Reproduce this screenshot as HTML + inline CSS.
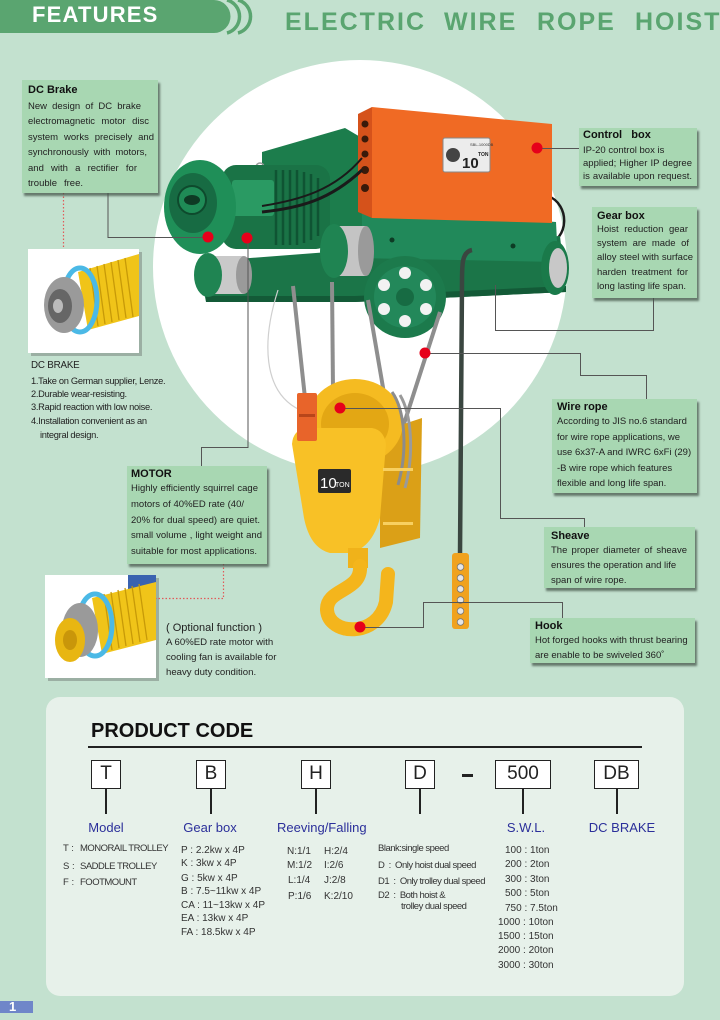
<!DOCTYPE html>
<html>
<head>
<meta charset="utf-8">
<style>
*{margin:0;padding:0;box-sizing:border-box}
html,body{width:720px;height:1020px;overflow:hidden}
body{background:#c3e1cf;position:relative;font-family:"Liberation Sans",sans-serif;color:#1e1e1e}
.abs{position:absolute;white-space:nowrap}
.co{position:absolute;background:#a8d7b2;box-shadow:2px 3px 2px rgba(70,85,75,.75)}
.co .t{font-weight:bold;font-size:11px;line-height:14px;color:#111}
.co .l{font-size:9.5px;color:#222;white-space:nowrap}
.j{text-align:justify;text-align-last:justify;white-space:normal!important}
.blue{color:#2b2f9a;font-size:13px}
.pc{font-size:10px;color:#333}
.bx{position:absolute;top:760px;height:29px;border:1.5px solid #222;background:#fff;text-align:center;font-size:19px;line-height:26px;color:#222}
.st{position:absolute;top:789px;width:2px;height:25px;background:#222}
</style>
</head>
<body>

<!-- header -->
<svg class="abs" style="left:0;top:0" width="720" height="40">
  <path d="M0,0 H214 A16.5,16.5 0 0 1 214,33 H0 Z" fill="#5aa570"/>
  <path d="M227,0 A16.5,17 0 0 1 227,33" stroke="#5aa570" stroke-width="3.5" fill="none"/>
  <path d="M238,0 A16.5,17 0 0 1 238,33" stroke="#5aa570" stroke-width="3.5" fill="none"/>
</svg>
<div class="abs" style="left:32px;top:3px;font-size:22px;line-height:24px;font-weight:bold;color:#fff;letter-spacing:1.2px">FEATURES</div>
<div class="abs" style="left:285px;top:8px;font-size:25px;line-height:28px;font-weight:bold;color:#5aa570;letter-spacing:2px">ELECTRIC</div>
<div class="abs" style="left:444px;top:8px;font-size:25px;line-height:28px;font-weight:bold;color:#5aa570;letter-spacing:2px">WIRE</div>
<div class="abs" style="left:537px;top:8px;font-size:25px;line-height:28px;font-weight:bold;color:#5aa570;letter-spacing:2px">ROPE</div>
<div class="abs" style="left:635px;top:8px;font-size:25px;line-height:28px;font-weight:bold;color:#5aa570;letter-spacing:2px">HOIST</div>

<!-- main graphics -->
<svg class="abs" style="left:0;top:0" width="720" height="1020">
  <circle cx="360" cy="267" r="207" fill="#fff"/>

  <!-- back cable right -->
  <path d="M548,196 C570,204 570,240 545,245 L472,250" stroke="#1c1c1c" stroke-width="2.5" fill="none"/>
  <!-- girder -->
  <polygon points="198,262 355,250 560,236 566,292 355,302 206,302" fill="#1b7548"/>
  <polygon points="206,296 355,296 566,286 566,292 355,302 206,302" fill="#135a37"/>
  <!-- frame under box -->
  <polygon points="355,208 556,222 558,262 355,258" fill="#21895a"/>
  <circle cx="392" cy="240" r="2.5" fill="#0d3b24"/><circle cx="513" cy="246" r="2.5" fill="#0d3b24"/>
  <!-- gearbox hump -->
  <polygon points="262,152 345,128 362,138 362,245 262,245" fill="#1c7d4c"/>
  <circle cx="260" cy="167" r="4" stroke="#999" stroke-width="1.5" fill="none"/>
  <!-- motor body with fins -->
  <rect x="222" y="165" width="108" height="84" rx="14" fill="#1a7346"/>
  <g stroke="#0f5433" stroke-width="2.5">
    <line x1="276" y1="170" x2="276" y2="245"/><line x1="283" y1="170" x2="283" y2="245"/>
    <line x1="290" y1="170" x2="290" y2="245"/><line x1="297" y1="170" x2="297" y2="245"/>
    <line x1="304" y1="172" x2="304" y2="243"/><line x1="311" y1="174" x2="311" y2="240"/>
    <line x1="318" y1="178" x2="318" y2="236"/>
  </g>
  <rect x="232" y="180" width="42" height="36" rx="3" fill="#2a9a63"/>
  <!-- end cap -->
  <ellipse cx="200" cy="207" rx="36" ry="47" fill="#1f8f58"/>
  <ellipse cx="193" cy="203" rx="24" ry="30" fill="#176b43"/>
  <circle cx="192" cy="200" r="14" fill="#1f8b56" stroke="#0e4a2d" stroke-width="2"/>
  <ellipse cx="192" cy="200" rx="8" ry="5" fill="#0e3a24"/>
  <!-- left wheel -->
  <rect x="210" y="256" width="34" height="38" fill="#c9c9c9"/>
  <ellipse cx="244" cy="275" rx="8" ry="19" fill="#9a9a9a"/>
  <ellipse cx="208" cy="275" rx="14" ry="22" fill="#1f8452"/>
  <!-- middle wheel -->
  <rect x="336" y="226" width="30" height="50" fill="#c4c4c4"/>
  <ellipse cx="366" cy="251" rx="8" ry="25" fill="#9a9a9a"/>
  <ellipse cx="334" cy="251" rx="14" ry="27" fill="#1f8452"/>
  <!-- right wheel -->
  <ellipse cx="555" cy="268" rx="14" ry="27" fill="#1a7a4a"/>
  <ellipse cx="558" cy="268" rx="9" ry="20" fill="#c8c8c8"/>
  <!-- sheave -->
  <circle cx="405" cy="297" r="41" fill="#1c7a4c"/>
  <circle cx="405" cy="297" r="31" fill="#23885a"/>
  <g fill="#f2f2f2">
    <circle cx="405" cy="273" r="6"/><circle cx="426" cy="285" r="6"/><circle cx="426" cy="309" r="6"/>
    <circle cx="405" cy="321" r="6"/><circle cx="384" cy="309" r="6"/><circle cx="384" cy="285" r="6"/>
  </g>
  <circle cx="405" cy="297" r="9" fill="#176b43"/>
  <!-- orange box -->
  <polygon points="358,114 372,107 372,218 358,212" fill="#d5521b"/>
  <polygon points="372,107 552,124 552,223 372,218" fill="#f06a24"/>
  <g fill="#3a1a0a">
    <circle cx="365" cy="124" r="3.5"/><circle cx="365" cy="139" r="3.5"/><circle cx="365" cy="154" r="3.5"/>
    <circle cx="365" cy="170" r="4"/><circle cx="365" cy="188" r="4"/>
  </g>
  <rect x="443" y="138" width="47" height="34" rx="2" fill="#ececec" stroke="#888" stroke-width="1"/>
  <circle cx="453" cy="155" r="7" fill="#444"/>
  <text x="462" y="168" font-family="Liberation Sans, sans-serif" font-size="15" font-weight="bold" fill="#222">10</text>
  <text x="470" y="146" font-family="Liberation Sans, sans-serif" font-size="4" fill="#333">SBL-1000DB</text>
  <text x="478" y="156" font-family="Liberation Sans, sans-serif" font-size="5" font-weight="bold" fill="#222">TON</text>
  <!-- cables motor to box -->
  <path d="M262,212 C300,208 330,200 362,170" stroke="#1a1a1a" stroke-width="3" fill="none"/>
  <path d="M262,206 C300,200 335,190 362,158" stroke="#1a1a1a" stroke-width="2" fill="none"/>
  <!-- ropes -->
  <g stroke="#8e8e8e" stroke-width="4" fill="none">
    <line x1="293" y1="286" x2="305" y2="398"/>
    <line x1="332" y1="282" x2="333" y2="390"/>
    <line x1="368" y1="300" x2="392" y2="440"/>
    <line x1="440" y1="312" x2="402" y2="430"/>
  </g>
  <path d="M278,290 C262,340 262,392 300,410" stroke="#cfcfcf" stroke-width="1.2" fill="none"/>
  <!-- hook block -->
  <polygon points="380,432 422,418 420,538 380,548" fill="#dba017"/>
  <ellipse cx="355" cy="422" rx="48" ry="43" fill="#f5bb21"/>
  <ellipse cx="355" cy="424" rx="34" ry="31" fill="#e3a714"/>
  <path d="M392,392 C405,410 408,450 398,485" stroke="#8c8c8c" stroke-width="3" fill="none"/>
  <path d="M400,395 C412,415 414,455 405,488" stroke="#9a9a9a" stroke-width="3" fill="none"/>
  <path d="M292,444 Q293,430 306,428 L372,428 Q384,430 386,444 L380,518 Q372,548 350,553 L330,553 Q310,548 304,518 Z" fill="#f8c126"/>
  <rect x="383" y="468" width="30" height="3" fill="#f8d060"/>
  <rect x="383" y="522" width="30" height="3" fill="#f8d060"/>
  <rect x="318" y="469" width="33" height="24" rx="2" fill="#2a2a2a"/>
  <text x="320" y="488" font-family="Liberation Sans, sans-serif" font-size="15" fill="#fff">10</text>
  <text x="335" y="487" font-family="Liberation Sans, sans-serif" font-size="7" fill="#fff">TON</text>
  <rect x="297" y="393" width="20" height="48" rx="2" fill="#e8642a"/>
  <rect x="299" y="414" width="16" height="3" fill="#b8461a"/>
  <!-- hook -->
  <rect x="348" y="548" width="20" height="20" fill="#f0b21a"/>
  <path d="M360,566 C362,592 326,588 327,610 C329,636 378,638 386,602 L388,574" stroke="#f4b51c" stroke-width="14" fill="none" stroke-linecap="round"/>
  <!-- pendant -->
  <path d="M472,250 C462,252 462,264 462,282 L460,555" stroke="#3a4640" stroke-width="4.5" fill="none"/>
  <rect x="452" y="553" width="17" height="76" rx="3" fill="#f0a21e"/>
  <g fill="#e6e6e6" stroke="#777" stroke-width="0.8">
    <circle cx="460.5" cy="567" r="3.3"/><circle cx="460.5" cy="578" r="3.3"/><circle cx="460.5" cy="589" r="3.3"/>
    <circle cx="460.5" cy="600" r="3.3"/><circle cx="460.5" cy="611" r="3.3"/><circle cx="460.5" cy="622" r="3.3"/>
  </g>

  <!-- brake image 1 -->
  <rect x="31" y="252" width="111" height="104" fill="#8a9a90" opacity="0.7"/>
  <rect x="28" y="249" width="111" height="104" fill="#fff"/>
  <polygon points="78,272 139,254 139,316 88,330" fill="#f0c419"/>
  <g stroke="#c79a08" stroke-width="1.3">
    <line x1="90" y1="268" x2="98" y2="326"/><line x1="97" y1="266" x2="105" y2="324"/><line x1="104" y1="264" x2="112" y2="322"/>
    <line x1="111" y1="262" x2="119" y2="320"/><line x1="118" y1="260" x2="126" y2="318"/><line x1="125" y1="258" x2="133" y2="317"/>
  </g>
  <ellipse cx="80" cy="300" rx="17" ry="32" stroke="#4bb9e6" stroke-width="5" fill="none"/>
  <ellipse cx="64" cy="305" rx="20" ry="28" fill="#9a9a9a"/>
  <ellipse cx="60" cy="306" rx="12" ry="17" fill="#666"/>
  <ellipse cx="58" cy="306" rx="5" ry="7" fill="#bbb"/>
  <!-- motor image 2 -->
  <rect x="48" y="578" width="111" height="103" fill="#8a9a90" opacity="0.7"/>
  <rect x="45" y="575" width="111" height="103" fill="#fff"/>
  <rect x="128" y="575" width="28" height="30" fill="#3a63b0"/>
  <polygon points="92,598 156,582 156,640 102,654" fill="#f0c419"/>
  <g stroke="#c79a08" stroke-width="1.3">
    <line x1="104" y1="594" x2="112" y2="650"/><line x1="111" y1="592" x2="119" y2="648"/><line x1="118" y1="590" x2="126" y2="646"/>
    <line x1="125" y1="588" x2="133" y2="644"/><line x1="132" y1="586" x2="140" y2="642"/><line x1="139" y1="584" x2="147" y2="640"/>
  </g>
  <ellipse cx="95" cy="625" rx="17" ry="31" stroke="#4bb9e6" stroke-width="5" fill="none"/>
  <ellipse cx="80" cy="630" rx="18" ry="27" fill="#9a9a9a"/>
  <ellipse cx="70" cy="640" rx="15" ry="22" fill="#e8b612"/>
  <ellipse cx="70" cy="640" rx="7" ry="10" fill="#c9960a"/>

  <!-- connectors -->
  <g stroke="#555" stroke-width="1" fill="none">
    <path d="M108,193 V237.5 H208"/>
    <path d="M248,238 V447.5 H201.5 V466"/>
    <path d="M537,148.5 H579"/>
    <path d="M495.5,285 V330.5 H653.5 V298"/>
    <path d="M425,353.5 H580.5 V375.5 H646.5 V399"/>
    <path d="M340,408.5 H500.5 V518.5 H584.5 V527"/>
    <path d="M360,627.5 H423.5 V602.5 H562.5 V618"/>
  </g>
  <g stroke="#e05a5a" stroke-width="1.2" stroke-dasharray="1.5,2" fill="none">
    <path d="M63.5,193 V249"/>
    <path d="M223.5,564 V598.5 H156"/>
  </g>
  <!-- red dots -->
  <g fill="#e6001a">
    <circle cx="208" cy="237" r="5.5"/><circle cx="247" cy="238" r="5.5"/><circle cx="537" cy="148" r="5.5"/>
    <circle cx="425" cy="353" r="5.5"/><circle cx="340" cy="408" r="5.5"/><circle cx="360" cy="627" r="5.5"/>
  </g>
</svg>

<!-- callouts -->
<div class="co" style="left:22px;top:80px;width:136px;height:113px;padding:3px 0 0 6px">
  <div class="t">DC Brake</div>
  <div style="height:2px"></div>
  <div class="l j" style="width:113px;line-height:15.4px">New design of DC brake</div>
  <div class="l j" style="width:121px;line-height:15.4px">electromagnetic motor disc</div>
  <div class="l j" style="width:126px;line-height:15.4px">system works precisely and</div>
  <div class="l j" style="width:119px;line-height:15.4px">synchronously with motors,</div>
  <div class="l j" style="width:109px;line-height:15.4px">and with a rectifier for</div>
  <div class="l j" style="width:55px;line-height:15.4px">trouble free.</div>
</div>

<div class="co" style="left:579px;top:128px;width:118px;height:58px;padding:1px 0 0 4px">
  <div class="t" style="line-height:13px">Control&nbsp;&nbsp; box</div>
  <div style="height:1.5px"></div>
  <div class="l" style="line-height:13px">IP-20 control box is</div>
  <div class="l j" style="width:109px;line-height:13px">applied; Higher IP degree</div>
  <div class="l j" style="width:109px;line-height:13px">is available upon request.</div>
</div>

<div class="co" style="left:592px;top:207px;width:105px;height:91px;padding:2px 0 0 5px">
  <div class="t">Gear box</div>
  <div class="l j" style="width:91px;line-height:14.2px">Hoist reduction gear</div>
  <div class="l j" style="width:92px;line-height:14.2px">system are made of</div>
  <div class="l j" style="width:96px;line-height:14.2px">alloy steel with surface</div>
  <div class="l j" style="width:91px;line-height:14.2px">harden treatment for</div>
  <div class="l j" style="width:89px;line-height:14.2px">long lasting life span.</div>
</div>

<div class="co" style="left:552px;top:399px;width:145px;height:94px;padding:1px 0 0 5px">
  <div class="t">Wire rope</div>
  <div class="l" style="line-height:15.5px">According to JIS no.6 standard</div>
  <div class="l" style="line-height:15.5px">for wire rope applications, we</div>
  <div class="l" style="line-height:15.5px">use 6x37-A and IWRC 6xFi (29)</div>
  <div class="l" style="line-height:15.5px">-B wire rope which features</div>
  <div class="l" style="line-height:15.5px">flexible and long life span.</div>
</div>

<div class="co" style="left:544px;top:527px;width:151px;height:61px;padding:1.5px 0 0 7px">
  <div class="t">Sheave</div>
  <div class="l j" style="width:136px;line-height:15px">The proper diameter of sheave</div>
  <div class="l" style="line-height:15px">ensures the operation and life</div>
  <div class="l" style="line-height:15px">span of wire rope.</div>
</div>

<div class="co" style="left:530px;top:618px;width:165px;height:45px;padding:1px 0 0 5px">
  <div class="t">Hook</div>
  <div class="l" style="line-height:15px">Hot forged hooks with thrust bearing</div>
  <div class="l" style="line-height:15px">are enable to be swiveled 360˚</div>
</div>

<div class="co" style="left:127px;top:466px;width:140px;height:98px;padding:1px 0 0 4px">
  <div class="t">MOTOR</div>
  <div class="l j" style="width:127px;line-height:15.75px">Highly efficiently squirrel cage</div>
  <div class="l j" style="width:113px;line-height:15.75px">motors of 40%ED rate (40/</div>
  <div class="l j" style="width:129px;line-height:15.75px">20% for dual speed) are quiet.</div>
  <div class="l j" style="width:131px;line-height:15.75px">small volume , light weight and</div>
  <div class="l j" style="width:126px;line-height:15.75px">suitable for most applications.</div>
</div>

<!-- DC BRAKE list -->
<div class="abs" style="left:31px;top:359px;font-size:9.8px;line-height:14px;letter-spacing:-0.2px;color:#222">DC BRAKE</div>
<div class="abs" style="left:31px;top:374px;font-size:9.3px;line-height:14px;letter-spacing:-0.3px;color:#222">1.Take on German supplier, Lenze.</div>
<div class="abs" style="left:31px;top:387px;font-size:9.3px;line-height:14px;letter-spacing:-0.3px;color:#222">2.Durable wear-resisting.</div>
<div class="abs" style="left:31px;top:400px;font-size:9.3px;line-height:14px;letter-spacing:-0.3px;color:#222">3.Rapid reaction with low noise.</div>
<div class="abs" style="left:31px;top:414px;font-size:9.3px;line-height:14px;letter-spacing:-0.3px;color:#222">4.Installation convenient as an</div>
<div class="abs" style="left:40px;top:428px;font-size:9.3px;line-height:14px;letter-spacing:-0.3px;color:#222">integral design.</div>

<!-- optional function -->
<div class="abs" style="left:166px;top:620px;font-size:11px;line-height:16px;color:#222">( Optional function )</div>
<div class="abs" style="left:166px;top:636px;font-size:9.6px;line-height:14px;color:#222">A 60%ED rate motor with</div>
<div class="abs" style="left:166px;top:651px;font-size:9.6px;line-height:14px;color:#222">cooling fan is available for</div>
<div class="abs" style="left:166px;top:666px;font-size:9.6px;line-height:14px;color:#222">heavy duty condition.</div>

<!-- product code panel -->
<div class="abs" style="left:46px;top:697px;width:638px;height:299px;background:#e7f1ea;border-radius:14px"></div>
<div class="abs" style="left:91px;top:719px;font-size:20px;line-height:24px;font-weight:bold;color:#111">PRODUCT CODE</div>
<div class="abs" style="left:88px;top:746px;width:554px;height:2px;background:#222"></div>

<div class="bx" style="left:91px;width:30px">T</div>
<div class="bx" style="left:196px;width:30px">B</div>
<div class="bx" style="left:301px;width:30px">H</div>
<div class="bx" style="left:405px;width:30px">D</div>
<div class="bx" style="left:495px;width:56px">500</div>
<div class="bx" style="left:594px;width:45px">DB</div>
<div class="st" style="left:105px"></div>
<div class="st" style="left:210px"></div>
<div class="st" style="left:315px"></div>
<div class="st" style="left:419px"></div>
<div class="st" style="left:522px"></div>
<div class="st" style="left:616px"></div>
<div class="abs" style="left:462px;top:774px;width:11px;height:3px;background:#222"></div>

<div class="abs blue" style="left:76px;top:820px;width:60px;text-align:center;line-height:16px">Model</div>
<div class="abs blue" style="left:170px;top:820px;width:80px;text-align:center;line-height:16px">Gear box</div>
<div class="abs blue" style="left:277px;top:820px;line-height:16px">Reeving/Falling</div>
<div class="abs blue" style="left:496px;top:820px;width:60px;text-align:center;line-height:16px">S.W.L.</div>
<div class="abs blue" style="left:582px;top:820px;width:80px;text-align:center;line-height:16px">DC BRAKE</div>

<!-- model list -->
<div class="abs pc" style="left:63px;top:842px;line-height:14px;font-size:9.5px">T :</div>
<div class="abs pc" style="left:80px;top:842px;line-height:14px;font-size:9.5px;letter-spacing:-0.5px">MONORAIL TROLLEY</div>
<div class="abs pc" style="left:63px;top:860px;line-height:14px;font-size:9.5px">S :</div>
<div class="abs pc" style="left:80px;top:860px;line-height:14px;font-size:9.5px;letter-spacing:-0.5px">SADDLE TROLLEY</div>
<div class="abs pc" style="left:63px;top:876px;line-height:14px;font-size:9.5px">F :</div>
<div class="abs pc" style="left:80px;top:876px;line-height:14px;font-size:9.5px;letter-spacing:-0.5px">FOOTMOUNT</div>

<!-- gear list -->
<div class="abs pc" style="left:181px;top:844px;line-height:14px">P : 2.2kw x 4P</div>
<div class="abs pc" style="left:181px;top:857px;line-height:14px">K : 3kw x 4P</div>
<div class="abs pc" style="left:181px;top:872px;line-height:14px">G : 5kw x 4P</div>
<div class="abs pc" style="left:181px;top:885px;line-height:14px">B : 7.5~11kw x 4P</div>
<div class="abs pc" style="left:181px;top:899px;line-height:14px">CA : 11~13kw x 4P</div>
<div class="abs pc" style="left:181px;top:912px;line-height:14px">EA : 13kw x 4P</div>
<div class="abs pc" style="left:181px;top:926px;line-height:14px">FA : 18.5kw x 4P</div>

<!-- reeving -->
<div class="abs pc" style="left:287px;top:845px;line-height:14px">N:1/1</div>
<div class="abs pc" style="left:324px;top:845px;line-height:14px">H:2/4</div>
<div class="abs pc" style="left:287px;top:859px;line-height:14px">M:1/2</div>
<div class="abs pc" style="left:324px;top:859px;line-height:14px">I:2/6</div>
<div class="abs pc" style="left:288px;top:874px;line-height:14px">L:1/4</div>
<div class="abs pc" style="left:324px;top:874px;line-height:14px">J:2/8</div>
<div class="abs pc" style="left:288px;top:890px;line-height:14px">P:1/6</div>
<div class="abs pc" style="left:324px;top:890px;line-height:14px">K:2/10</div>

<!-- speed -->
<div class="abs pc" style="left:378px;top:842px;line-height:14px;font-size:9.5px;letter-spacing:-0.5px">Blank:single speed</div>
<div class="abs pc" style="left:378px;top:859px;line-height:14px;font-size:9.5px;letter-spacing:-0.5px">D&nbsp; :&nbsp; Only hoist dual speed</div>
<div class="abs pc" style="left:378px;top:875px;line-height:14px;font-size:9.5px;letter-spacing:-0.5px">D1&nbsp; :&nbsp; Only trolley dual speed</div>
<div class="abs pc" style="left:378px;top:889px;line-height:14px;font-size:9.5px;letter-spacing:-0.5px">D2&nbsp; :&nbsp; Both hoist &amp;</div>
<div class="abs pc" style="left:401px;top:900px;line-height:14px;font-size:9.5px;letter-spacing:-0.5px">trolley dual speed</div>

<!-- SWL -->
<div class="abs pc" style="left:505px;top:844px;line-height:14px">100 : 1ton</div>
<div class="abs pc" style="left:505px;top:858px;line-height:14px">200 : 2ton</div>
<div class="abs pc" style="left:505px;top:873px;line-height:14px">300 : 3ton</div>
<div class="abs pc" style="left:505px;top:887px;line-height:14px">500 : 5ton</div>
<div class="abs pc" style="left:505px;top:902px;line-height:14px">750 : 7.5ton</div>
<div class="abs pc" style="left:498px;top:916px;line-height:14px">1000 : 10ton</div>
<div class="abs pc" style="left:498px;top:930px;line-height:14px">1500 : 15ton</div>
<div class="abs pc" style="left:498px;top:944px;line-height:14px">2000 : 20ton</div>
<div class="abs pc" style="left:498px;top:959px;line-height:14px">3000 : 30ton</div>

<!-- page badge -->
<div class="abs" style="left:0;top:1001px;width:33px;height:12px;background:#6f86c9"></div>
<div class="abs" style="left:9px;top:999px;font-size:13px;line-height:15px;font-weight:bold;color:#fff">1</div>

</body>
</html>
